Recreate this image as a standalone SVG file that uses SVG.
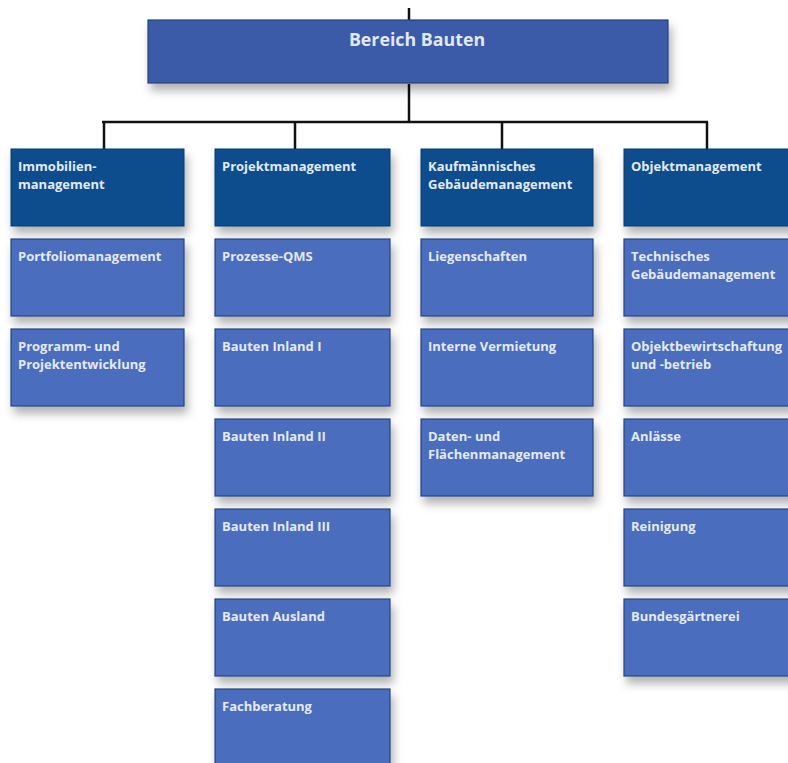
<svg xmlns="http://www.w3.org/2000/svg" width="788" height="763" viewBox="0 0 788 763">
<defs>
<filter id="sh" x="-20%" y="-20%" width="150%" height="170%">
<feDropShadow dx="3" dy="7" stdDeviation="5" flood-color="#000" flood-opacity="0.3"/>
</filter>
<style>
.top{fill:#3a5aa7;stroke:#24417e;stroke-width:1.2}
.hd{fill:#0b4d8e;stroke:#083a6e;stroke-width:1}
.sb{fill:#4b6dbd;stroke:#27447f;stroke-width:1.2}
.t{font-family:"Open Sans","Noto Sans","Liberation Sans",sans-serif;font-weight:bold;font-size:13px;fill:#e4eaf5}
.tt{font-family:"Open Sans","Noto Sans","Liberation Sans",sans-serif;font-weight:bold;font-size:17.8px;fill:#e2e8f4}
.ln{stroke:#111;stroke-width:2.5;fill:none}
</style>
</defs>
<rect width="788" height="763" fill="#fff"/>
<g id="connectors">
<path class="ln" d="M409 8V20M409 84V122M102 122H708M104 122V149M295 122V149M502 122V149M707 122V149"/>
</g>
<g id="bereich-bauten"><rect class="top" x="148" y="20" width="520" height="63" filter="url(#sh)"/><text class="tt" x="417" y="46" text-anchor="middle">Bereich Bauten</text></g>

<g id="immobilienmanagement"><rect class="hd" x="11" y="149" width="173" height="77" filter="url(#sh)"/><text class="t" x="18" y="171">Immobilien-</text><text class="t" x="18" y="188.5">management</text></g>
<g id="portfoliomanagement"><rect class="sb" x="11" y="239" width="173" height="77" filter="url(#sh)"/><text class="t" x="18" y="261">Portfoliomanagement</text></g>
<g id="programm"><rect class="sb" x="11" y="329" width="173" height="77" filter="url(#sh)"/><text class="t" x="18" y="351">Programm- und</text><text class="t" x="18" y="368.5">Projektentwicklung</text></g>

<g id="projektmanagement"><rect class="hd" x="215" y="149" width="175" height="77" filter="url(#sh)"/><text class="t" x="222" y="171">Projektmanagement</text></g>
<g id="prozesse-qms"><rect class="sb" x="215" y="239" width="175" height="77" filter="url(#sh)"/><text class="t" x="222" y="261">Prozesse-QMS</text></g>
<g id="bauten-inland-1"><rect class="sb" x="215" y="329" width="175" height="77" filter="url(#sh)"/><text class="t" x="222" y="351">Bauten Inland I</text></g>
<g id="bauten-inland-2"><rect class="sb" x="215" y="419" width="175" height="77" filter="url(#sh)"/><text class="t" x="222" y="441">Bauten Inland II</text></g>
<g id="bauten-inland-3"><rect class="sb" x="215" y="509" width="175" height="77" filter="url(#sh)"/><text class="t" x="222" y="531">Bauten Inland III</text></g>
<g id="bauten-ausland"><rect class="sb" x="215" y="599" width="175" height="77" filter="url(#sh)"/><text class="t" x="222" y="621">Bauten Ausland</text></g>
<g id="fachberatung"><rect class="sb" x="215" y="689" width="175" height="77" filter="url(#sh)"/><text class="t" x="222" y="711">Fachberatung</text></g>

<g id="kaufmaennisches"><rect class="hd" x="421" y="149" width="172" height="77" filter="url(#sh)"/><text class="t" x="428" y="171">Kaufmännisches</text><text class="t" x="428" y="188.5">Gebäudemanagement</text></g>
<g id="liegenschaften"><rect class="sb" x="421" y="239" width="172" height="77" filter="url(#sh)"/><text class="t" x="428" y="261">Liegenschaften</text></g>
<g id="interne-vermietung"><rect class="sb" x="421" y="329" width="172" height="77" filter="url(#sh)"/><text class="t" x="428" y="351">Interne Vermietung</text></g>
<g id="daten"><rect class="sb" x="421" y="419" width="172" height="77" filter="url(#sh)"/><text class="t" x="428" y="441">Daten- und</text><text class="t" x="428" y="458.5">Flächenmanagement</text></g>

<g id="objektmanagement"><rect class="hd" x="624" y="149" width="175" height="77" filter="url(#sh)"/><text class="t" x="631" y="171">Objektmanagement</text></g>
<g id="technisches"><rect class="sb" x="624" y="239" width="175" height="77" filter="url(#sh)"/><text class="t" x="631" y="261">Technisches</text><text class="t" x="631" y="278.5">Gebäudemanagement</text></g>
<g id="objektbewirtschaftung"><rect class="sb" x="624" y="329" width="175" height="77" filter="url(#sh)"/><text class="t" x="631" y="351">Objektbewirtschaftung</text><text class="t" x="631" y="368.5">und -betrieb</text></g>
<g id="anlaesse"><rect class="sb" x="624" y="419" width="175" height="77" filter="url(#sh)"/><text class="t" x="631" y="441">Anlässe</text></g>
<g id="reinigung"><rect class="sb" x="624" y="509" width="175" height="77" filter="url(#sh)"/><text class="t" x="631" y="531">Reinigung</text></g>
<g id="bundesgaertnerei"><rect class="sb" x="624" y="599" width="175" height="77" filter="url(#sh)"/><text class="t" x="631" y="621">Bundesgärtnerei</text></g>
</svg>
